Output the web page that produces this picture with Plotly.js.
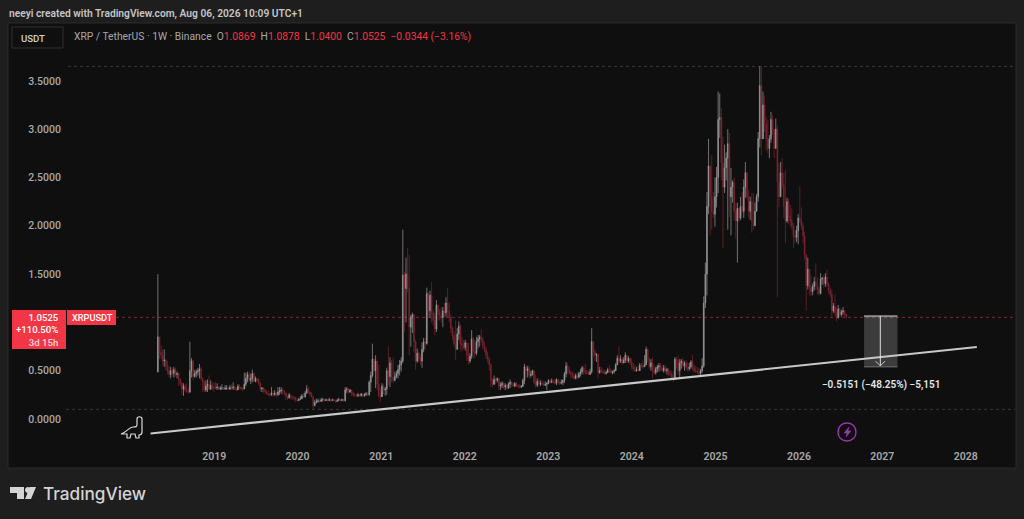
<!DOCTYPE html>
<html>
<head>
<meta charset="utf-8">
<script src="https://cdn.plot.ly/plotly-3.0.1.min.js"></script>
<style>html,body{margin:0;padding:0;background:#1e1e1e;overflow:hidden}#chart{width:1024px;height:519px}</style>
</head>
<body>
<div id="chart"></div>
<script>
const firstWeek = '2018-04-30';
const firstOpen = 0.49;
const closes = [
.85,.69,.66,.60,.61,.55,.50,.46,.50,.47,.51,.46,.47,.41,.37,.31,.34,.30,.29,.28,.50,.60,.44,.47,.49,.50,.52,.42,.38,.30,.34,.36,.31,.35,.33,.32,
.32,.33,.31,.32,.32,.31,.32,.32,.31,.33,.32,.33,.31,.30,.34,.33,.31,.31,.36,.42,.46,.40,.42,.47,.39,.42,.41,.37,.31,.32,.30,.28,.26,.25,.25,.27,.25,.27,.25,.28,.29,.30,.29,.27,.24,.22,.25,.23,.22,.22,.20,.19,
.20,.21,.24,.23,.27,.31,.28,.26,.23,.14,.17,.18,.19,.18,.20,.20,.19,.20,.19,.20,.19,.20,.19,.18,.19,.20,.19,.20,.19,.30,.31,.28,.30,.27,.25,.25,.24,.25,.24,.26,.24,.25,.26,.25,.38,.45,.62,.50,.60,.36,.24,
.23,.34,.30,.31,.50,.44,.58,.43,.40,.44,.47,.51,.56,.60,1.49,1.35,1.50,1.35,.95,1.05,1.08,.80,.60,.68,.62,.60,.72,.80,.78,1.30,1.12,1.28,1.10,1.02,.93,1.18,1.10,1.08,1.05,1.12,1.10,1.20,1.12,1.05,.94,.86,.78,.72,.88,.96,.78,.76,
.74,.79,.66,.60,.65,.83,.70,.68,.80,.83,.85,.82,.76,.72,.66,.62,.56,.40,.36,.41,.40,.42,.34,.35,.37,.33,.35,.32,.36,.38,.36,.34,.37,.35,.34,.33,.34,.40,.54,.50,.52,.45,.46,.50,.38,.35,.39,.36,.37,.36,.35,.36,.37,
.40,.38,.39,.38,.37,.41,.38,.37,.38,.40,.47,.55,.50,.48,.46,.44,.42,.45,.43,.47,.49,.53,.50,.48,.47,.46,.49,.80,.70,.66,.67,.48,.50,.49,.48,.47,.48,.51,.50,.48,.49,.50,.56,.63,.60,.62,.58,.61,.66,.60,.63,.59,
.54,.52,.50,.51,.50,.56,.55,.54,.56,.72,.62,.54,.58,.50,.48,.52,.54,.55,.52,.50,.53,.50,.51,.47,.46,.43,.41,.62,.60,.50,.58,.60,.55,.58,.53,.52,.54,.59,.53,.50,.49,.48,.47,.50,.55,1.20,1.50,2.20,2.62,2.30,2.15,2.12,
2.30,2.50,3.10,3.12,2.65,2.40,2.60,2.70,2.85,2.30,2.40,2.45,2.15,2.05,2.18,2.08,2.20,2.15,2.40,2.55,2.30,2.15,2.25,2.05,2.00,2.15,2.30,2.90,3.45,2.90,3.25,3.05,2.90,2.80,2.90,3.10,3.00,2.80,3.00,2.45,2.30,2.55,2.42,2.20,2.05,2.25,2.10,2.05,2.00,1.90,1.88,1.95,2.08,2.05,2.00,1.90,1.70,1.38,1.55,1.36,1.32,1.37,1.42,1.38,1.34,1.30,1.45,1.46,1.40,1.47,1.40,1.33,1.29,1.12,1.17,1.10,1.05,1.14,1.08,1.11,1.12,1.0869,1.0525
];
const highs = [
1.50,.85,.76,.72,.72,.62,.60,.55,.54,.53,.54,.53,.49,.48,.42,.38,.37,.36,.37,.33,.80,.63,.61,.51,.51,.53,.57,.54,.43,.40,.40,.41,.45,.40,.38,.38,
.38,.37,.34,.34,.36,.33,.35,.35,.33,.35,.36,.38,.35,.33,.36,.36,.33,.33,.48,.48,.49,.49,.47,.51,.48,.44,.42,.42,.38,.33,.33,.31,.30,.29,.27,.33,.29,.30,.28,.33,.33,.33,.32,.30,.26,.24,.27,.25,.24,.24,.23,.21,
.22,.24,.26,.27,.29,.35,.33,.29,.28,.24,.20,.21,.21,.21,.22,.22,.21,.21,.21,.22,.21,.21,.21,.20,.21,.22,.21,.21,.21,.33,.33,.32,.31,.30,.28,.27,.26,.27,.26,.27,.27,.27,.28,.28,.40,.49,.78,.63,.66,.60,.56,
.32,.37,.36,.33,.53,.75,.64,.61,.64,.49,.50,.56,.61,.64,1.96,1.52,1.67,1.77,1.70,1.08,1.10,1.08,.82,.73,.70,.66,.79,.84,.84,1.36,1.31,1.33,1.42,1.13,1.10,1.23,1.18,1.14,1.16,1.16,1.20,1.26,1.36,1.21,1.08,.96,.90,1.02,.94,1.01,.98,.85,
.82,.82,.79,.79,.68,.92,.85,.82,.85,.87,.87,.93,.85,.80,.74,.70,.64,.58,.42,.45,.43,.43,.42,.38,.39,.38,.37,.36,.38,.41,.39,.38,.38,.38,.36,.36,.35,.42,.57,.55,.55,.55,.50,.51,.50,.46,.42,.42,.40,.40,.39,.39,.38,
.41,.41,.42,.41,.41,.42,.41,.40,.41,.41,.49,.59,.58,.54,.50,.49,.48,.47,.48,.49,.52,.55,.55,.57,.51,.50,.52,.94,.75,.72,.68,.64,.54,.54,.52,.51,.50,.53,.56,.53,.50,.52,.58,.66,.75,.66,.64,.64,.69,.66,.65,.63,
.63,.58,.56,.54,.55,.58,.58,.60,.66,.75,.73,.64,.62,.64,.56,.54,.56,.58,.58,.56,.56,.56,.53,.53,.50,.50,.49,.64,.64,.66,.62,.62,.63,.60,.61,.59,.58,.61,.66,.56,.55,.54,.53,.52,.63,1.27,1.62,2.35,2.90,2.61,2.73,2.35,
2.50,2.61,3.39,3.37,3.22,2.92,2.84,2.76,3.00,2.96,2.60,2.47,2.50,2.24,2.24,2.18,2.30,2.35,2.48,2.66,2.55,2.37,2.30,2.34,2.34,2.24,2.33,2.97,3.65,3.65,3.39,3.35,3.13,3.10,2.94,3.18,3.15,3.00,3.11,3.04,2.65,2.66,2.70,2.55,2.58,2.29,2.28,2.22,2.18,2.03,1.96,2.00,2.12,2.41,2.19,2.03,1.94,1.70,1.67,1.55,1.49,1.40,1.47,1.61,1.47,1.37,1.51,1.47,1.49,1.51,1.55,1.41,1.36,1.34,1.20,1.29,1.16,1.18,1.15,1.13,1.16,1.12,1.0878
];
const lows = [
.48,.62,.62,.55,.54,.50,.46,.43,.42,.44,.43,.44,.42,.34,.34,.25,.24,.28,.27,.26,.27,.43,.40,.43,.43,.45,.42,.40,.28,.28,.28,.28,.30,.30,.30,.28,
.31,.30,.30,.30,.30,.30,.30,.30,.30,.30,.30,.30,.30,.29,.30,.31,.30,.29,.33,.34,.38,.38,.36,.38,.38,.38,.38,.35,.28,.28,.27,.26,.25,.24,.23,.24,.23,.24,.22,.24,.25,.26,.25,.24,.20,.20,.21,.20,.20,.19,.18,.18,
.19,.20,.21,.22,.22,.26,.26,.24,.22,.10,.13,.16,.17,.17,.18,.18,.18,.19,.18,.19,.18,.19,.18,.17,.18,.19,.18,.19,.18,.18,.27,.26,.27,.24,.23,.23,.23,.23,.23,.23,.23,.23,.24,.24,.24,.28,.43,.49,.32,.30,.22,
.18,.28,.26,.24,.25,.35,.33,.38,.37,.39,.42,.42,.45,.49,.58,.90,1.00,1.31,.66,.75,.89,.69,.51,.58,.59,.56,.53,.69,.72,.77,1.06,1.05,1.00,.97,.87,.90,1.02,1.02,1.00,.95,1.05,1.06,1.05,1.00,.89,.82,.75,.61,.72,.82,.71,.70,
.72,.71,.60,.56,.58,.62,.63,.63,.66,.73,.75,.79,.72,.69,.62,.58,.50,.33,.33,.35,.36,.38,.30,.30,.32,.31,.30,.30,.31,.32,.33,.33,.33,.33,.32,.32,.32,.33,.36,.43,.43,.42,.43,.45,.36,.32,.33,.34,.34,.35,.34,.34,.30,
.36,.37,.37,.37,.36,.35,.36,.35,.36,.35,.37,.43,.46,.46,.42,.42,.41,.41,.41,.43,.44,.46,.46,.46,.46,.46,.46,.47,.64,.60,.59,.42,.47,.48,.47,.46,.46,.49,.48,.47,.46,.47,.51,.56,.58,.58,.56,.58,.58,.58,.58,.56,
.51,.49,.49,.49,.50,.52,.53,.52,.54,.56,.58,.52,.50,.42,.46,.46,.48,.49,.50,.49,.48,.48,.46,.44,.44,.42,.38,.42,.52,.46,.42,.52,.53,.50,.50,.49,.50,.52,.50,.48,.48,.47,.46,.45,.48,.53,1.15,1.28,2.12,1.90,1.96,2.08,
1.99,2.19,2.34,2.91,2.47,1.77,2.34,2.47,1.96,2.09,1.90,2.24,2.06,1.87,1.62,2.04,2.06,2.13,2.08,2.29,2.27,2.08,2.06,1.93,1.96,2.00,2.15,2.25,2.81,2.73,2.91,2.97,2.78,2.75,2.70,2.86,2.94,2.70,2.80,1.26,2.19,2.30,2.39,2.08,1.82,2.03,2.02,1.99,1.96,1.77,1.82,1.83,1.81,2.03,1.96,1.82,1.65,1.12,1.34,1.28,1.27,1.28,1.33,1.34,1.29,1.28,1.29,1.39,1.36,1.37,1.37,1.30,1.26,1.06,1.10,1.06,1.01,1.04,1.05,1.06,1.08,1.06,1.04
];
const yTicks = [0, 0.5, 1, 1.5, 2, 2.5, 3, 3.5];
const yearTicks = ['2019','2020','2021','2022','2023','2024','2025','2026','2027','2028'];
const trendDates = ['2018-03-29', '2028-02-18'];
const trendPrices = [-0.15, 0.745];
const lastPrice = 1.0525, allHigh = 3.65, allLow = 0.10;
const measureTop = 1.066, measureBottom = 0.54;
const measureDates = ['2026-10-13', '2026-12-23', '2027-03-08'];

const PL = 68, PR = 1015, PT = 24, PB = 444;
const fx = x => (x - PL) / (PR - PL), fy = y => (PB - y) / (PB - PT);
const pathOf = s => s.replace(/(-?\d+\.?\d*) (-?\d+\.?\d*)/g, (m, a, b) => fx(+a).toFixed(5) + ' ' + fy(+b).toFixed(5));
const rect = (x0, y0, x1, y1, fill, line, layer) => ({type:'rect', xref:'paper', yref:'paper', x0:fx(x0), x1:fx(x1), y0:fy(y0), y1:fy(y1), fillcolor:fill, line:line || {width:0}, layer:layer || 'above'});
const hline = (y, x0, color) => ({type:'line', xref:'paper', yref:'y', x0:fx(x0), x1:1, y0:y, y1:y, line:{color:color, width:1, dash:'dot'}, layer:'below'});
const iconPath = (d, stroke, fill, w) => ({type:'path', xref:'paper', yref:'paper', path:pathOf(d), line:{color:stroke, width:w}, fillcolor:fill});
const note = (text, x, y, size, color, anchor, weight, family) => ({xref:'paper', yref:'paper', x:fx(x), y:fy(y), text:text, showarrow:false, xanchor:anchor || 'left', yanchor:'middle', borderpad:0, align:anchor === 'right' ? 'right' : 'left', font:{size:size, color:color, weight:weight || 400, family:family || 'Roboto, sans-serif'}});

const dates = closes.map((c, i) => new Date(Date.parse(firstWeek + 'T00:00:00Z') + i * 7 * 864e5).toISOString().slice(0, 10));
const opens = [firstOpen].concat(closes.slice(0, -1));

const traces = [
  {type:'candlestick', x:dates, open:opens, high:highs, low:lows, close:closes, width:2.5 * 864e5,
   increasing:{line:{color:'#9c9c9c', width:0.7}, fillcolor:'#9c9c9c'},
   decreasing:{line:{color:'#7e2530', width:0.7}, fillcolor:'#7e2530'},
   whiskerwidth:0, hoverinfo:'skip', showlegend:false},
  {type:'scatter', mode:'lines', x:trendDates, y:trendPrices, line:{color:'#c8c8c8', width:2.2}, hoverinfo:'skip', showlegend:false},
  {type:'scatter', mode:'lines', x:[measureDates[1], measureDates[1]], y:[measureTop, measureBottom + 0.01], line:{color:'#e0e0e0', width:1}, hoverinfo:'skip', showlegend:false},
  {type:'scatter', mode:'lines', x:['2026-12-02', measureDates[1], '2027-01-13'], y:[0.60, 0.55, 0.60], line:{color:'#c8c8c8', width:1}, hoverinfo:'skip', showlegend:false}
];
const R = '#f23645';
const v = s => '<span style="color:' + R + '">' + s + '</span>';
const layout = {
  width:1024, height:519, paper_bgcolor:'#1e1e1e', plot_bgcolor:'#0f0f0f',
  margin:{l:PL, r:1024 - PR, t:PT, b:519 - PB}, showlegend:false, hovermode:false, dragmode:false,
  font:{family:'Roboto, sans-serif'},
  xaxis:{type:'date', range:['2017-04-02', '2028-08-03'], rangeslider:{visible:false}, showgrid:false, zeroline:false, showline:false,
    tickmode:'array', tickvals:yearTicks.map(y => y + '-01-01'), ticktext:yearTicks, ticklen:0, ticklabelstandoff:4, tickfont:{size:10.5, color:'#a8a8a8', weight:600}},
  yaxis:{range:[(419 - PB) / 96.6, (419 - PT) / 96.6], showgrid:false, zeroline:false, showline:false,
    tickmode:'array', tickvals:yTicks, ticktext:yTicks.map(t => t.toFixed(4)), ticklen:0, ticklabelstandoff:6, tickfont:{size:10.5, color:'#a8a8a8', weight:500}},
  shapes:[
    rect(8, 23, 1016, 468, '#0f0f0f', {color:'#2a2a2a', width:1}, 'below'),
    hline(allHigh, 68, '#3a3a3a'), hline(allLow, 66, '#3a3a3a'), hline(lastPrice, 116, '#7a2a35'),
    rect(12, 27, 63, 48, 'rgba(0,0,0,0)', {color:'#303030', width:1}),
    {type:'rect', xref:'x', yref:'y', x0:measureDates[0], x1:measureDates[2], y0:measureBottom, y1:measureTop, fillcolor:'rgba(255,255,255,0.19)', line:{width:0}, layer:'below'},
    {type:'line', xref:'x', yref:'y', x0:measureDates[0], x1:measureDates[2], y0:measureTop, y1:measureTop, line:{color:'#d8d8d8', width:1}},
    {type:'line', xref:'x', yref:'y', x0:measureDates[0], x1:measureDates[2], y0:measureBottom, y1:measureBottom, line:{color:'#777777', width:1}},
    rect(12, 310, 66, 349, R), rect(67, 310, 116, 325, R),
    iconPath('M 121 434 C 127 432 129 427 133 427 C 136 427 137 427 137 424 L 137 419 C 137 416 142 416 142 419 L 142 432 C 142 435 140 435 139 435 L 139 438 L 136 438 L 135 434 L 131 434 L 130 438 L 127 438 L 127 434 Z', '#d8d8d8', 'rgba(0,0,0,0)', 1.2),
    iconPath('M 838 432 C 838 420 856 420 856 432 C 856 444 838 444 838 432 Z', '#9c35b0', 'rgba(0,0,0,0)', 1.3),
    iconPath('M 849 427 L 844 433 L 847 433 L 846 437 L 851 431 L 848 431 Z', '#9c35b0', '#9c35b0', 0.5),
    iconPath('M 10 487 L 24 487 L 24 499 L 17 499 L 17 493 L 10 493 Z', '#d4d4d4', '#d4d4d4', 0),
    iconPath('M 25 490 C 25 486 31 486 31 490 C 31 494 25 494 25 490 Z', '#d4d4d4', '#d4d4d4', 0),
    iconPath('M 30 487 L 36 487 L 31 499 L 25 499 Z', '#d4d4d4', '#d4d4d4', 0)
  ],
  annotations:[
    note('neeyi created with TradingView.com, Aug 06, 2026 10:09 UTC+1', 8, 13, 10.25, '#c6c6c6', 'left', 600),
    note('USDT', 20, 38, 9.6, '#d0d0d0', 'left', 500),
    note('XRP / TetherUS · 1W · Binance  O' + v('1.0869') + '  H' + v('1.0878') + '  L' + v('1.0400') + '  C' + v('1.0525') + '  ' + v('−0.0344 (−3.16%)'), 73, 36, 10.3, '#a8a8a8'),
    note('1.0525<br>+110.50%<br><span style="color:#ffd6da">3d 15h</span>', 60, 329.5, 9.6, '#ffffff', 'right', 500),
    note('XRPUSDT', 71, 317.5, 9.2, '#ffffff', 'left', 500),
    note('−0.5151 (−48.25%) −5,151', 880.5, 385, 10, '#e6e6e6', 'center', 600),
    note('TradingView', 42, 493, 17.2, '#d4d4d4', 'left', 500, 'Inter, sans-serif')
  ]
};
Plotly.newPlot('chart', traces, layout, {displayModeBar:false, staticPlot:true});
</script>
</body>
</html>
